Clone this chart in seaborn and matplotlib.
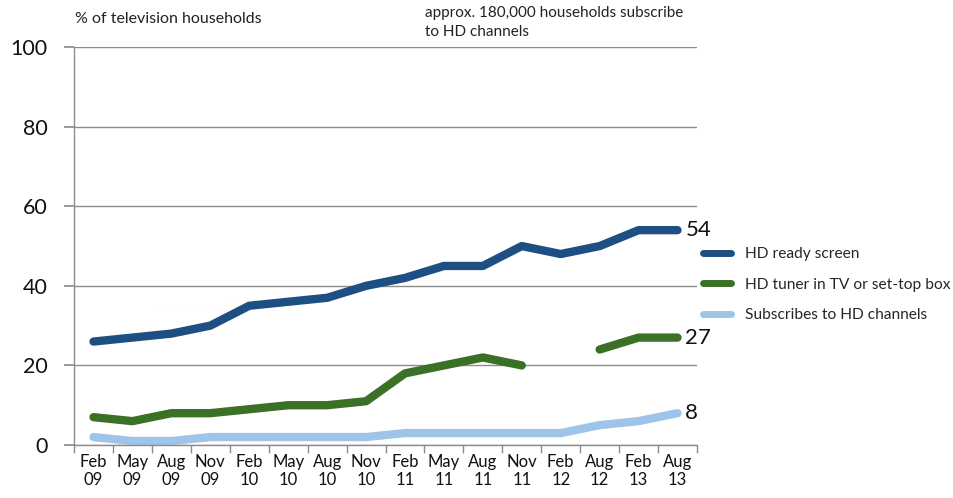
import numpy as np
import pandas as pd
import matplotlib
matplotlib.use("Agg")
import matplotlib.pyplot as plt
import seaborn as sns
from matplotlib.lines import Line2D

periods = ["Feb\n09", "May\n09", "Aug\n09", "Nov\n09", "Feb\n10", "May\n10", "Aug\n10", "Nov\n10",
           "Feb\n11", "May\n11", "Aug\n11", "Nov\n11", "Feb\n12", "Aug\n12", "Feb\n13", "Aug\n13"]
hd_ready = [26, 27, 28, 30, 35, 36, 37, 40, 42, 45, 45, 50, 48, 50, 54, 54]
hd_tuner = [7, 6, 8, 8, 9, 10, 10, 11, 18, 20, 22, 20, np.nan, 24, 27, 27]
hd_subs = [2, 1, 1, 2, 2, 2, 2, 2, 3, 3, 3, 3, 3, 5, 6, 8]
series_names = ["HD ready screen", "HD tuner in TV or set-top box", "Subscribes to HD channels"]
colors = ["#1d4f82", "#3b7027", "#9ec5e8"]
y_ticks = [0, 20, 40, 60, 80, 100]

sns.set_theme(style="white")
plt.rcParams['font.family'] = ['Lato', 'DejaVu Sans']

fig = plt.figure(figsize=(9.54, 4.98), dpi=100)
ax = fig.add_axes([0.0776, 0.1064, 0.653, 0.799])

x = np.arange(len(periods))
all_series = [hd_ready, hd_tuner, hd_subs]
for name, vals, col in zip(series_names, all_series, colors):
    v = np.array(vals, dtype=float)
    seg = np.cumsum(np.isnan(v))
    df = pd.DataFrame({"x": x, "y": v, "seg": seg}).dropna()
    sns.lineplot(data=df, x="x", y="y", units="seg", estimator=None, color=col,
                 linewidth=6, solid_capstyle="round", solid_joinstyle="round",
                 ax=ax, legend=False)

ax.set_xlim(-0.5, len(periods) - 0.5)
ax.set_ylim(0, 100)
ax.set_yticks(y_ticks)
ax.set_yticklabels([str(t) for t in y_ticks], fontsize=15.5, color="#111111")
ax.set_xticks(x)
ax.set_xticklabels(periods, fontsize=12, color="#111111", linespacing=1.15)
ax.set_xlabel("")
ax.set_ylabel("")
ax.yaxis.grid(True, color="#8c8c8c", linewidth=1.0)
ax.set_axisbelow(True)
for s in ["top", "right"]:
    ax.spines[s].set_visible(False)
for s in ["left", "bottom"]:
    ax.spines[s].set_color("#8c8c8c")
    ax.spines[s].set_linewidth(1.0)
ax.tick_params(axis="y", length=7, color="#8c8c8c", pad=12, left=True)
ax.tick_params(axis="x", length=0, pad=6.5)
ax.set_xticks(np.arange(-0.5, len(periods)), minor=True)
ax.tick_params(axis="x", which="minor", length=6, color="#8c8c8c", bottom=True)

for vals in all_series:
    ax.text(len(periods) - 1 + 0.2, vals[-1], str(int(vals[-1])), fontsize=16,
            va="center", ha="left", color="#111111")

handles = [Line2D([0], [0], color=c, linewidth=5, solid_capstyle="round") for c in colors]
fig.legend(handles, series_names, loc="upper left", bbox_to_anchor=(0.725, 0.525),
           frameon=False, fontsize=11.2, handlelength=1.8, labelspacing=1.05,
           handletextpad=0.9, borderaxespad=0.3)

fig.text(0.0786, 0.962, "% of television households", fontsize=11.5, color="#222222", va="center")
fig.text(0.446, 0.955, "approx. 180,000 households subscribe\nto HD channels", fontsize=11,
         color="#222222", va="center", linespacing=1.45)

fig.savefig("out.png", dpi=100)
